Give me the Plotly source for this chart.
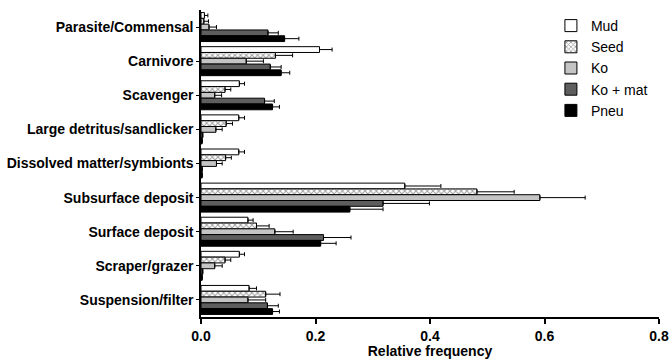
import plotly.graph_objects as go

categories = ["Parasite/Commensal", "Carnivore", "Scavenger", "Large detritus/sandlicker",
              "Dissolved matter/symbionts", "Subsurface deposit", "Surface deposit",
              "Scraper/grazer", "Suspension/filter"]

mud = [0.006, 0.207, 0.067, 0.066, 0.066, 0.356, 0.082, 0.067, 0.084]
mud_err = [0.006, 0.022, 0.009, 0.010, 0.010, 0.063, 0.009, 0.009, 0.013]
seed = [0.005, 0.130, 0.042, 0.044, 0.043, 0.482, 0.097, 0.042, 0.113]
seed_err = [0.008, 0.030, 0.010, 0.011, 0.010, 0.065, 0.022, 0.010, 0.025]
ko = [0.014, 0.079, 0.024, 0.026, 0.027, 0.592, 0.129, 0.024, 0.082]
ko_err = [0.013, 0.030, 0.012, 0.011, 0.010, 0.079, 0.032, 0.013, 0.031]
komat = [0.117, 0.121, 0.111, 0.003, 0.002, 0.318, 0.214, 0.003, 0.116]
komat_err = [0.018, 0.019, 0.017, 0.0, 0.0, 0.081, 0.048, 0.0, 0.019]
pneu = [0.146, 0.140, 0.125, 0.002, 0.002, 0.260, 0.209, 0.002, 0.125]
pneu_err = [0.025, 0.015, 0.012, 0.0, 0.0, 0.058, 0.027, 0.0, 0.012]

series = [
    ("Mud", mud, mud_err, "white", None),
    ("Seed", seed, seed_err, "white", dict(shape="x", fgcolor="#444444", bgcolor="white", size=4, solidity=0.45)),
    ("Ko", ko, ko_err, "#c4c4c4", None),
    ("Ko + mat", komat, komat_err, "#5e5e5e", None),
    ("Pneu", pneu, pneu_err, "black", None),
]

FONT = "Liberation Sans"
fig = go.Figure()
for name, vals, errs, color, pattern in series:
    marker = dict(color=color, line=dict(color="black", width=1))
    if pattern:
        marker["pattern"] = pattern
    fig.add_trace(go.Bar(
        name=name, y=categories, x=vals, orientation="h",
        marker=marker,
        error_x=dict(type="data", array=errs, symmetric=False, arrayminus=[0] * len(errs),
                     color="black", thickness=1, width=2),
    ))

fig.update_layout(
    width=670, height=359,
    margin=dict(l=201, r=11, t=10, b=42),
    paper_bgcolor="white", plot_bgcolor="white",
    barmode="group", bargap=0.15, bargroupgap=0,
    font=dict(family=FONT, color="black"),
    legend=dict(x=0.764, y=1.0, xanchor="left", yanchor="top",
                font=dict(family=FONT, size=14, color="black"),
                bgcolor="rgba(0,0,0,0)", tracegroupgap=0),
    xaxis=dict(range=[0, 0.8], dtick=0.2, tickformat=".1f", showline=True, linecolor="black",
               linewidth=1.5, ticks="outside", ticklen=5, tickwidth=1.5, tickcolor="black",
               showgrid=False, zeroline=False, automargin=False,
               tickfont=dict(family=FONT, size=14, weight="bold"),
               title=dict(text="Relative frequency", font=dict(family=FONT, size=14, weight="bold"),
                          standoff=2)),
    yaxis=dict(autorange="reversed", showline=True, linecolor="black", linewidth=1.5,
               ticks="outside", ticklen=3, tickwidth=1, tickcolor="black", showgrid=False,
               automargin=False,
               tickfont=dict(family=FONT, size=14, weight="bold")),
)

fig.write_html("out.html", config={"displayModeBar": False},
               post_script="document.body.style.margin='0';")
